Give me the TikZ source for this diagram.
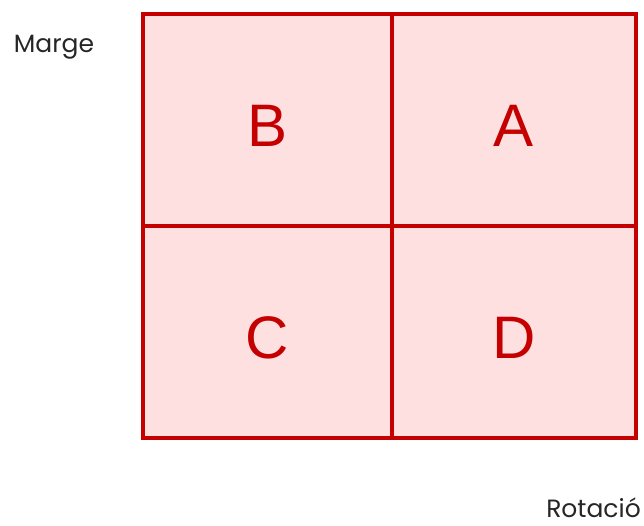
\documentclass[tikz,border=0pt]{standalone}
\usepackage{fontspec}
\setmainfont{Poppins}
\newfontfamily\letterfont{Liberation Sans}
\usepackage{tikz}
\usetikzlibrary{positioning}
\definecolor{cellred}{RGB}{196,0,0}
\definecolor{cellpink}{RGB}{255,224,225}

\begin{document}
\begin{tikzpicture}[
  x=1pt,y=-1pt,
  cell/.style={rectangle,draw=cellred,line width=3.5pt,fill=cellpink,
               inner sep=0pt,text=cellred,font=\letterfont\fontsize{60}{60}\selectfont,
               text height=52pt,text depth=0pt},
  axis/.style={font=\fontsize{25}{25}\selectfont,text=black!85,inner sep=0pt}
]
\useasboundingbox (0,0) rectangle (644,525);
\node[cell,minimum width=249pt,minimum height=212pt] (cellB) at (267.5,120) {B};
\node[cell,minimum width=244pt,minimum height=212pt] (cellA) at (514,120) {A};
\node[cell,minimum width=249pt,minimum height=212pt] (cellC) at (267.5,332) {C};
\node[cell,minimum width=244pt,minimum height=212pt] (cellD) at (514,332) {D};
\node[axis,anchor=base] (marge) at (54,52) {Marge};
\node[axis,anchor=base east] (rotacio) at (641,517) {Rotació};
\end{tikzpicture}
\end{document}
